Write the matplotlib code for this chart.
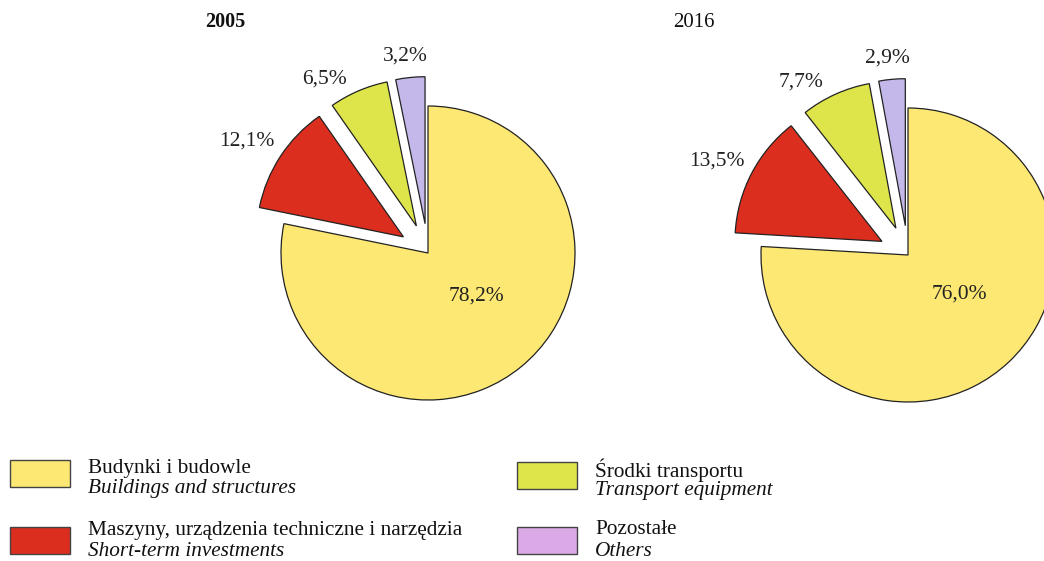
import matplotlib
matplotlib.use("Agg")
import matplotlib.pyplot as plt
import numpy as np
from matplotlib.patches import Rectangle

plt.rcParams['font.family'] = ['Liberation Serif', 'DejaVu Serif']

years = ["2005", "2016"]
shares_2005 = [78.2, 12.1, 6.5, 3.2]
shares_2016 = [76.0, 13.5, 7.7, 2.9]
labels_pl = ["Budynki i budowle", "Maszyny, urządzenia techniczne i narzędzia",
             "Środki transportu", "Pozostałe"]
labels_en = ["Buildings and structures", "Short-term investments",
             "Transport equipment", "Others"]
pie_colors = ["#FDE873", "#DC2E1E", "#DEE54B", "#C4B8EA"]
legend_colors = ["#FDE873", "#DC2E1E", "#DEE54B", "#DAA9E6"]

# label placement per slice: angular nudge (deg) and distance (in radii)
label_shift = [9.0, 1.5, 7.5, 0.8]
label_dist = [0.44, 1.45, 1.38, 1.35]

W, H = 1044, 561
fig = plt.figure(figsize=(W / 100, H / 100), dpi=100)
ax = fig.add_axes([0, 0, 1, 1])


def fmt(v):
    return f"{v:.1f}".replace(".", ",") + "%"


def draw_pie(values, cx, cy, r):
    # explode offsets are in data units, so scale them by the radius
    explode = [0.0] + [0.2 * r] * 3
    wedges, _ = ax.pie(values, colors=pie_colors, startangle=90, counterclock=False,
                       explode=explode, center=(cx, H - cy), radius=r,
                       wedgeprops=dict(edgecolor="#222222", linewidth=0.9),
                       frame=True)
    for i, (w, v) in enumerate(zip(wedges, values)):
        mid = np.deg2rad((w.theta1 + w.theta2) / 2 + label_shift[i])
        d = label_dist[i] * r
        ax.text(cx + d * np.cos(mid), H - cy + d * np.sin(mid), fmt(v),
                ha="center", va="center", fontsize=15.5, color="#222222")


draw_pie(shares_2005, 428, 253, 147)
draw_pie(shares_2016, 908, 255, 147)

ax.text(205, H - 22, years[0], ha="left", va="center", fontsize=14.5,
        color="#111111", fontweight="bold")
ax.text(673, H - 22, years[1], ha="left", va="center", fontsize=15,
        color="#111111")

# legend: two columns of colour swatches with bilingual labels
legend_pos = [(10, 460), (10, 527), (517, 462), (517, 527)]
line_gap = 21
for (x, y), c, pl, en in zip(legend_pos, legend_colors, labels_pl, labels_en):
    ax.add_patch(Rectangle((x, H - y - 27), 60, 27, facecolor=c,
                           edgecolor="#444444", linewidth=1.0))
    # keep the lowest line's descenders inside the canvas
    ty = max(H - y - 8, 10 + line_gap)
    ax.text(x + 78, ty, pl, ha="left", va="center", fontsize=15.3, color="#111111")
    ax.text(x + 78, ty - line_gap, en, ha="left", va="center", fontsize=15.3,
            color="#111111", style="italic")

ax.set_xlim(0, W)
ax.set_ylim(0, H)
ax.set_aspect("equal")
ax.axis("off")

fig.savefig("out.png", dpi=100)
